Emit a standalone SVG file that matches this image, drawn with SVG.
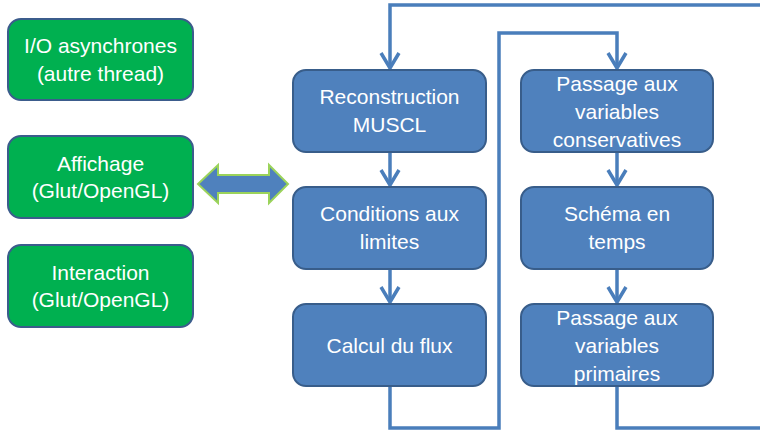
<svg xmlns="http://www.w3.org/2000/svg" width="760" height="432" viewBox="0 0 760 432">
<defs>
<style>
.g{fill:#00b050;stroke:#3b5c8c;stroke-width:2}
.b{fill:#4f81bd;stroke:#385d8a;stroke-width:2}
.t{font-family:"Liberation Sans",Arial,sans-serif;font-size:21px;fill:#ffffff;text-anchor:middle}
.c{fill:none;stroke:#4a7ebb;stroke-width:3.5}
</style>
<marker id="ah" markerUnits="userSpaceOnUse" markerWidth="30" markerHeight="30" refX="0" refY="0" viewBox="-20 -15 30 30" orient="auto" overflow="visible">
<path d="M-15,-9 L0,0 L-15,9" fill="none" stroke="#4a7ebb" stroke-width="3.5" stroke-linejoin="miter"/>
</marker>
</defs>
<rect width="760" height="432" fill="#ffffff"/>
<g id="connectors">
<path class="c" d="M760,5 L390,5 L390,68" marker-end="url(#ah)"/>
<path class="c" d="M390,152 L390,185" marker-end="url(#ah)"/>
<path class="c" d="M390,269 L390,302" marker-end="url(#ah)"/>
<path class="c" d="M390,386 L390,428 L499,428 L499,33 L617,33 L617,68" marker-end="url(#ah)"/>
<path class="c" d="M617,152 L617,185" marker-end="url(#ah)"/>
<path class="c" d="M617,269 L617,302" marker-end="url(#ah)"/>
<path class="c" d="M617,386 L617,428 L760,428"/>
<polygon id="double-arrow" points="198,184 218,165 218,175 269,175 269,165 288,184 269,203 269,193 218,193 218,203" fill="#4f81bd" stroke="#9bd35a" stroke-width="2"/>
</g>
<g id="io">
<rect class="g" x="8" y="19" width="185" height="81" rx="13"/>
<text class="t" x="100.5" y="53">I/O asynchrones</text>
<text class="t" x="100.5" y="81">(autre thread)</text>
</g>
<g id="affichage">
<rect class="g" x="8" y="136" width="185" height="82" rx="13"/>
<text class="t" x="100.5" y="171">Affichage</text>
<text class="t" x="100.5" y="198">(Glut/OpenGL)</text>
</g>
<g id="interaction">
<rect class="g" x="8" y="245" width="185" height="82" rx="13"/>
<text class="t" x="100.5" y="280">Interaction</text>
<text class="t" x="100.5" y="307">(Glut/OpenGL)</text>
</g>
<g id="reconstruction">
<rect class="b" x="293" y="70" width="193" height="82" rx="13"/>
<text class="t" x="389.5" y="104">Reconstruction</text>
<text class="t" x="389.5" y="132">MUSCL</text>
</g>
<g id="conditions">
<rect class="b" x="293" y="187" width="193" height="82" rx="13"/>
<text class="t" x="389.5" y="221">Conditions aux</text>
<text class="t" x="389.5" y="249">limites</text>
</g>
<g id="calcul">
<rect class="b" x="293" y="304" width="193" height="82" rx="13"/>
<text class="t" x="389.5" y="353">Calcul du flux</text>
</g>
<g id="passage-conservatives">
<rect class="b" x="521" y="70" width="192" height="82" rx="13"/>
<text class="t" x="617" y="91">Passage aux</text>
<text class="t" x="617" y="119">variables</text>
<text class="t" x="617" y="147">conservatives</text>
</g>
<g id="schema">
<rect class="b" x="521" y="187" width="192" height="82" rx="13"/>
<text class="t" x="617" y="221">Schéma en</text>
<text class="t" x="617" y="249">temps</text>
</g>
<g id="passage-primaires">
<rect class="b" x="521" y="304" width="192" height="82" rx="13"/>
<text class="t" x="617" y="325">Passage aux</text>
<text class="t" x="617" y="353">variables</text>
<text class="t" x="617" y="381">primaires</text>
</g>
</svg>
